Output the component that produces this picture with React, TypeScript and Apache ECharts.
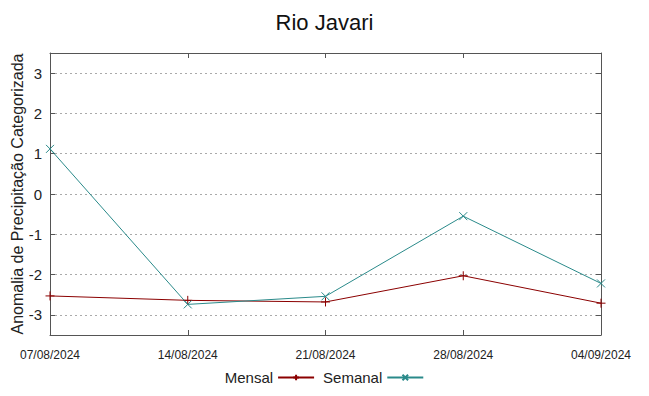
import React, { useEffect, useRef } from "react";
import * as echarts from "echarts";

const categories = ["07/08/2024", "14/08/2024", "21/08/2024", "28/08/2024", "04/09/2024"];
const mensal = [-2.53, -2.64, -2.68, -2.03, -2.71];
const semanal = [1.12, -2.74, -2.54, -0.55, -2.22];
const yTicks = [-3, -2, -1, 0, 1, 2, 3];

const RED = "#8b0000";
const TEAL = "#2a8a8a";
const FONT = "Liberation Sans";

export default function App() {
  const ref = useRef<HTMLDivElement>(null);
  useEffect(() => {
    if (!ref.current) return;
    const chart = echarts.init(ref.current, undefined, { renderer: "svg" });
    const axisLine = { show: true, onZero: false, lineStyle: { color: "#555", width: 1 } };
    const tick = { show: true, inside: true, length: 5, lineStyle: { color: "#555" } };
    chart.setOption({
      animation: false,
      backgroundColor: "#fff",
      title: {
        text: "Rio Javari",
        left: "center",
        top: 6,
        textStyle: { fontFamily: FONT, fontSize: 22, fontWeight: "normal", color: "#111" },
      },
      legend: {
        bottom: 6,
        left: "center",
        align: "right",
        itemWidth: 36,
        itemHeight: 7,
        itemGap: 8,
        textStyle: { fontFamily: FONT, fontSize: 15, color: "#222" },
        data: ["Mensal", "Semanal"],
      },
      grid: {
        left: 50,
        right: 48,
        top: 53,
        bottom: 61,
        show: false,
        containLabel: false,
        outerBoundsMode: "none",
      },
      xAxis: [
        {
          type: "category",
          data: categories,
          boundaryGap: false,
          axisLine,
          axisTick: tick,
          axisLabel: { fontFamily: FONT, fontSize: 12, color: "#222", margin: 14 },
          splitLine: { show: false },
        },
        {
          type: "category",
          data: categories,
          position: "top",
          boundaryGap: false,
          axisLine,
          axisTick: tick,
          axisLabel: { show: false },
          splitLine: { show: false },
        },
      ],
      yAxis: [
        {
          type: "value",
          min: -3.5,
          max: 3.5,
          axisLine,
          axisTick: { ...tick, customValues: yTicks },
          axisLabel: { fontFamily: FONT, fontSize: 15, color: "#222", margin: 8, customValues: yTicks },
          splitLine: { show: true, lineStyle: { color: "#aaa", type: [2, 3], width: 1 } },
          name: "Anomalia de Precipitação Categorizada",
          nameLocation: "middle",
          nameGap: 25,
          nameMoveOverlap: false,
          nameTextStyle: { fontFamily: FONT, fontSize: 16, color: "#222" },
        },
        {
          type: "value",
          min: -3.5,
          max: 3.5,
          position: "right",
          axisLine,
          axisTick: { ...tick, customValues: yTicks },
          axisLabel: { show: false, customValues: yTicks },
          splitLine: { show: false },
        },
      ],
      series: [
        {
          name: "Mensal",
          type: "line",
          data: mensal,
          symbol: "path://M0,5L10,5M5,0L5,10",
          symbolSize: 9,
          lineStyle: { color: RED, width: 1 },
          itemStyle: { color: RED, borderColor: RED, borderWidth: 1 },
        },
        {
          name: "Semanal",
          type: "line",
          data: semanal,
          symbol: "path://M0,0L10,10M10,0L0,10",
          symbolSize: 8,
          lineStyle: { color: TEAL, width: 1 },
          itemStyle: { color: TEAL, borderColor: TEAL, borderWidth: 1 },
        },
      ],
    });
    return () => chart.dispose();
  }, []);
  return (
    <div
      ref={ref}
      style={{ position: "fixed", left: 0, top: 0, width: 649, height: 396 }}
    />
  );
}
